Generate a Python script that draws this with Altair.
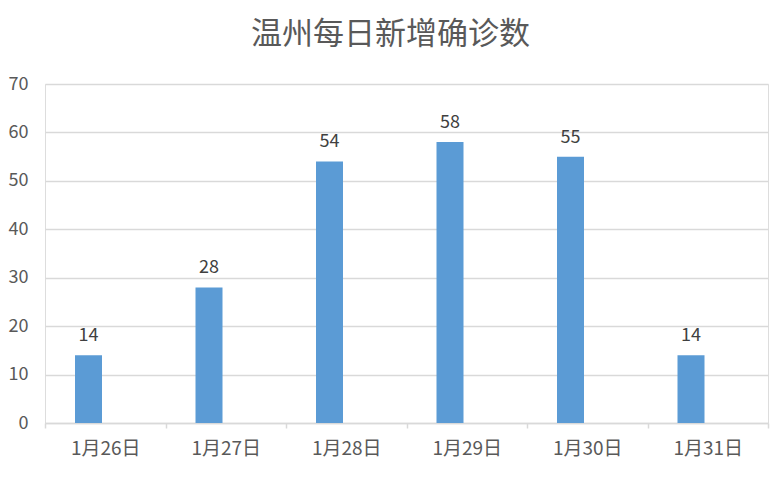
import altair as alt
import pandas as pd

dates = ["1月26日", "1月27日", "1月28日", "1月29日", "1月30日", "1月31日"]
values = [14, 28, 54, 58, 55, 14]

df = pd.DataFrame({"date": dates, "value": values})

FONT = "Noto Sans CJK SC"

x = alt.X(
    "date:N",
    sort=dates,
    scale=alt.Scale(paddingInner=0, paddingOuter=0),
    axis=alt.Axis(
        title=None,
        labelAngle=0,
        labelFont=FONT,
        labelFontSize=19,
        labelColor="#595959",
        labelPadding=11,
        domainColor="#d9d9d9",
        domainWidth=1.5,
        tickColor="#d9d9d9",
        tickSize=5,
        tickWidth=1.5,
        tickBand="extent",
        grid=False,
    ),
)

y = alt.Y(
    "value:Q",
    scale=alt.Scale(domain=[0, 70], nice=False),
    axis=alt.Axis(
        title=None,
        values=[0, 10, 20, 30, 40, 50, 60, 70],
        labelFont=FONT,
        labelFontSize=18,
        labelColor="#595959",
        labelPadding=17,
        ticks=False,
        tickSize=0,
        domain=False,
        gridColor="#d9d9d9",
        gridWidth=1.5,
    ),
)

bars = alt.Chart(df).mark_bar(width=27, xOffset=-16.75, color="#5B9BD5").encode(x=x, y=y)

labels = alt.Chart(df).mark_text(
    xOffset=-16.75,
    dy=-10,
    baseline="bottom",
    font=FONT,
    fontSize=18,
    color="#404040",
).encode(x=x, y=y, text="value:Q")

chart = (
    alt.layer(bars, labels)
    .properties(
        width=723,
        height=339,
        autosize=alt.AutoSizeParams(type="none"),
        padding={"left": 37, "top": 76, "right": 4, "bottom": 40},
        title=alt.TitleParams(
            "温州每日新增确诊数",
            font=FONT,
            fontSize=31,
            fontWeight="normal",
            color="#595959",
            anchor="middle",
            dx=-16,
            offset=24,
        ),
    )
    .configure_view(stroke=None)
    .configure(background="white")
)

chart.save("out.html", embed_options={"renderer": "svg", "actions": False})
